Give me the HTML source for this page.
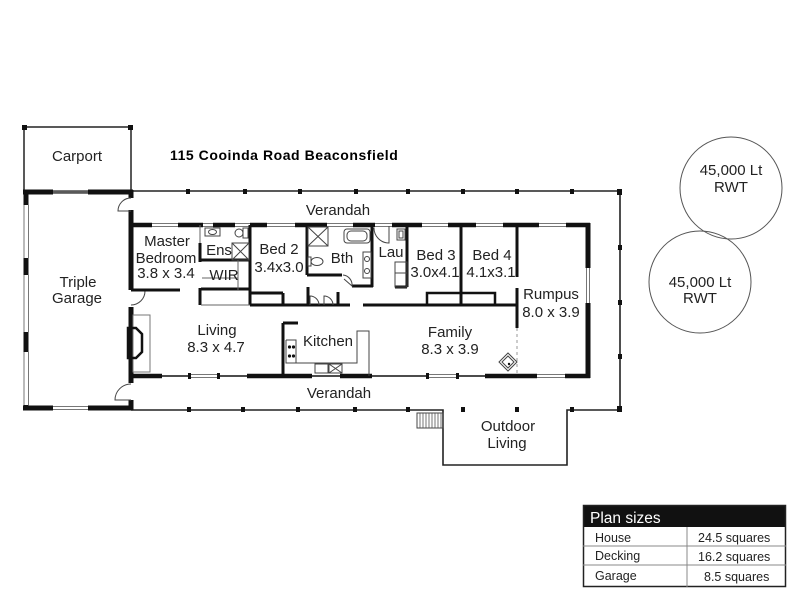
<!DOCTYPE html>
<html><head><meta charset="utf-8"><style>
html,body{margin:0;padding:0;background:#fff;}
svg{display:block;}
text{font-family:"Liberation Sans",Arial,sans-serif;font-size:15px;fill:#222;text-anchor:middle;}
.t{font-size:12.5px;text-anchor:start;fill:#222;}
</style></head><body>
<svg width="800" height="600" viewBox="0 0 800 600" xmlns="http://www.w3.org/2000/svg">
<rect width="800" height="600" fill="#fff"/>

<!-- Carport -->
<rect x="24" y="127" width="107" height="65" fill="none" stroke="#222" stroke-width="1.5"/>
<rect x="22" y="125" width="5" height="5" fill="#111"/>
<rect x="128" y="125" width="5" height="5" fill="#111"/>

<!-- Verandah outline + outdoor living -->
<path d="M131 191 H620 V410 H567 V465 H443 V410 H131" fill="none" stroke="#222" stroke-width="1.6"/>
<g fill="#111">
<rect x="186" y="189" width="4" height="5"/><rect x="243" y="189" width="4" height="5"/><rect x="298" y="189" width="4" height="5"/><rect x="354" y="189" width="4" height="5"/><rect x="406" y="189" width="4" height="5"/><rect x="461" y="189" width="4" height="5"/><rect x="515" y="189" width="4" height="5"/><rect x="570" y="189" width="4" height="5"/><rect x="617" y="189" width="5" height="6"/>
<rect x="187" y="407" width="4" height="5"/><rect x="241" y="407" width="4" height="5"/><rect x="296" y="407" width="4" height="5"/><rect x="353" y="407" width="4" height="5"/><rect x="406" y="407" width="4" height="5"/><rect x="461" y="407" width="4" height="5"/><rect x="515" y="407" width="4" height="5"/><rect x="570" y="407" width="4" height="5"/><rect x="617" y="406" width="5" height="6"/>
<rect x="618" y="245" width="4" height="5"/><rect x="618" y="300" width="4" height="5"/><rect x="618" y="354" width="4" height="5"/>
</g>
<!-- steps -->
<rect x="417" y="413" width="26" height="15" fill="none" stroke="#444" stroke-width="1"/>
<path d="M420 413V428M423 413V428M426 413V428M429 413V428M432 413V428M435 413V428M438 413V428M441 413V428" stroke="#555" stroke-width="0.8"/>

<!-- Garage -->
<g stroke="#111" stroke-width="5" fill="none">
<path d="M23 192H53M88 192H133M23 408H53M88 408H133"/>
<path d="M26 190V205M26 258V275M26 332V352M26 405V410"/>
<path d="M131 190V198M131 210V290M131 307V383M131 400V410"/>
</g>
<g stroke="#777" stroke-width="1" fill="none">
<path d="M53 190.5H88M53 193.5H88M53 406.5H88M53 409.5H88"/>
<path d="M24 205V258M28.5 205V258M24 275V332M28.5 275V332M24 352V405M28.5 352V405"/>
</g>
<g stroke="#444" stroke-width="1" fill="none">
<path d="M131 198 A13 13 0 0 0 118 211 H131"/>
<path d="M131 291 H145 A14 14 0 0 1 131 305"/>
<path d="M131 384 A16 16 0 0 0 115 400 H131"/>
</g>

<!-- House top wall -->
<g stroke="#777" stroke-width="1"><path d="M131 223.5H590M131 226.5H590"/></g>
<g stroke="#111" stroke-width="4.5">
<path d="M131 225H152M178 225H203M213 225H235M250 225H267M295 225H327M353 225H375M392 225H422M448 225H476M503 225H539M566 225H590"/>
</g>
<!-- right wall -->
<g stroke="#777" stroke-width="1"><path d="M586.5 268V303M589.5 268V303"/></g>
<g stroke="#111" stroke-width="5"><path d="M588 223V268M588 303V378"/></g>
<!-- bottom wall -->
<path d="M131 376H590" stroke="#111" stroke-width="1.5"/>
<g stroke="#fff" stroke-width="3"><path d="M189 376H218M427 376H457M537 376H565"/></g>
<g stroke="#777" stroke-width="1"><path d="M189 374.5H218M189 377.5H218M427 374.5H457M427 377.5H457M537 374.5H565M537 377.5H565"/></g>
<g fill="#111"><rect x="188" y="373" width="3" height="6"/><rect x="217" y="373" width="3" height="6"/><rect x="426" y="373" width="3" height="6"/><rect x="456" y="373" width="3" height="6"/></g>
<g stroke="#111" stroke-width="4.5"><path d="M131 376H162M247 376H312M340 376H372M485 376H537M565 376H590"/></g>

<!-- Internal walls -->
<g stroke="#111" stroke-width="3" fill="none">
<path d="M131 290H180"/>
<path d="M200 243V262M200 288V305"/>
<path d="M200 260H250"/>
<path d="M201 289H250"/>
<path d="M250 225V305"/>
<path d="M250 293H283M283 293V305"/>
<path d="M250 305H350"/>
<path d="M308 287V305M338 292V305"/>
<path d="M307 225V275M307 275H342"/>
<path d="M352 286H373"/>
<path d="M372 225V287"/>
<path d="M407 225V287M395 287H407"/>
<path d="M363 305H517"/>
<path d="M461 225V305"/>
<path d="M517 225V277M517 288V328"/>
<path d="M283 323V376M283 323H298"/>
</g>
<g stroke="#111" stroke-width="2.5" fill="none"><path d="M427 305V293H495V305"/></g>
<path d="M517 328V376" stroke="#999" stroke-width="1" stroke-dasharray="3 3"/>
<g stroke="#666" stroke-width="1" fill="none">
<path d="M200 225V243"/>
<path d="M201 305H250"/>
<path d="M202 278H238M238 260V290"/>
</g>

<!-- Fixtures -->
<g stroke="#444" stroke-width="1" fill="none">
<!-- closets -->
<path d="M310 305V296A9 9 0 0 1 319 305"/>
<path d="M324 305V296A9 9 0 0 1 333 305"/>
<!-- bth door -->
<path d="M343 275A10 10 0 0 1 352 286L344 279"/>
<!-- bath -->
<rect x="344" y="229" width="26" height="14" rx="3"/>
<rect x="347" y="231" width="20" height="10" rx="4"/>
<!-- shower bth -->
<rect x="308" y="227" width="20" height="19"/>
<path d="M308 227L328 246M328 227L308 246"/>
<!-- toilet bth -->
<rect x="308" y="257" width="3" height="9"/>
<ellipse cx="317" cy="261.5" rx="6" ry="4"/>
<!-- vanity -->
<rect x="363" y="252" width="8" height="26"/>
<circle cx="367" cy="259" r="2.5"/><circle cx="367" cy="271" r="2.5"/>
<!-- lau door -->
<path d="M374 228A15 15 0 0 0 389 243V226"/>
<rect x="397" y="229" width="8" height="11"/><rect x="399" y="231" width="4" height="7"/>
<rect x="395" y="262" width="12" height="25"/><path d="M395 273H407"/>
<!-- ens -->
<rect x="205" y="228" width="15" height="8"/><ellipse cx="212.5" cy="232" rx="4" ry="2.5"/>
<rect x="243" y="228" width="5" height="10"/><ellipse cx="239" cy="233" rx="4" ry="4"/>
<rect x="232" y="243" width="17" height="17"/><path d="M232 243L249 260M249 243L232 260"/>
<!-- hearth / fireplace -->
<rect x="133" y="315" width="17" height="57" stroke="#777"/>
<!-- kitchen bench -->
<path d="M286 340H296V363H357V331H369V376"/>
<path d="M286 340V363H296"/>
<rect x="315" y="364" width="13" height="9"/><rect x="329" y="364" width="13" height="9"/>
<path d="M329 364L342 373M342 364L329 373"/>
<!-- diamond -->
<polygon points="508,353 517,362 508,371 499,362"/>
<polygon points="508,356 514,362 508,368 502,362"/>
</g>
<path d="M128 328H136L142 334V352L136 358H128Z" fill="none" stroke="#111" stroke-width="2.5"/>
<g fill="#111">
<circle cx="289.5" cy="347" r="1.6"/><circle cx="293.5" cy="347" r="1.6"/><circle cx="289.5" cy="356" r="1.6"/><circle cx="293.5" cy="356" r="1.6"/>
<circle cx="509" cy="364" r="1.2"/>
</g>

<!-- Labels -->
<text x="77" y="161">Carport</text>
<text x="170" y="160" style="font-weight:bold;font-size:14px;text-anchor:start;letter-spacing:0.55px;fill:#000">115 Cooinda Road Beaconsfield</text>
<text x="338" y="215">Verandah</text>
<text x="339" y="398">Verandah</text>
<text x="167" y="246">Master</text>
<text x="166" y="263">Bedroom</text>
<text x="166" y="278">3.8 x 3.4</text>
<text x="219" y="255">Ens</text>
<text x="224" y="280">WIR</text>
<text x="279" y="254">Bed 2</text>
<text x="279" y="272">3.4x3.0</text>
<text x="342" y="263">Bth</text>
<text x="391" y="257">Lau</text>
<text x="436" y="260">Bed 3</text>
<text x="435" y="277">3.0x4.1</text>
<text x="492" y="260">Bed 4</text>
<text x="491" y="277">4.1x3.1</text>
<text x="551" y="299">Rumpus</text>
<text x="551" y="317">8.0 x 3.9</text>
<text x="450" y="337">Family</text>
<text x="450" y="354">8.3 x 3.9</text>
<text x="217" y="335">Living</text>
<text x="216" y="352">8.3 x 4.7</text>
<text x="328" y="346">Kitchen</text>
<text x="78" y="287">Triple</text>
<text x="77" y="303">Garage</text>
<text x="508" y="431">Outdoor</text>
<text x="507" y="448">Living</text>

<!-- Tanks -->
<circle cx="731" cy="188" r="51" fill="none" stroke="#555" stroke-width="1"/>
<text x="731" y="175">45,000 Lt</text>
<text x="731" y="192">RWT</text>
<circle cx="700" cy="282" r="51" fill="none" stroke="#555" stroke-width="1"/>
<text x="700" y="287">45,000 Lt</text>
<text x="700" y="303">RWT</text>

<!-- Table -->
<rect x="583" y="505" width="203" height="22" fill="#111"/>
<rect x="583.5" y="505.5" width="202" height="81" fill="none" stroke="#222" stroke-width="1.5"/>
<path d="M583 546H786M583 565H786M687 527V587" stroke="#888" stroke-width="1"/>
<text x="590" y="523" style="font-size:15.5px;text-anchor:start;fill:#fff">Plan sizes</text>
<text class="t" x="595" y="542">House</text>
<text class="t" x="698" y="542">24.5 squares</text>
<text class="t" x="595" y="560">Decking</text>
<text class="t" x="698" y="561">16.2 squares</text>
<text class="t" x="595" y="580">Garage</text>
<text class="t" x="704" y="581">8.5 squares</text>
</svg>
</body></html>
